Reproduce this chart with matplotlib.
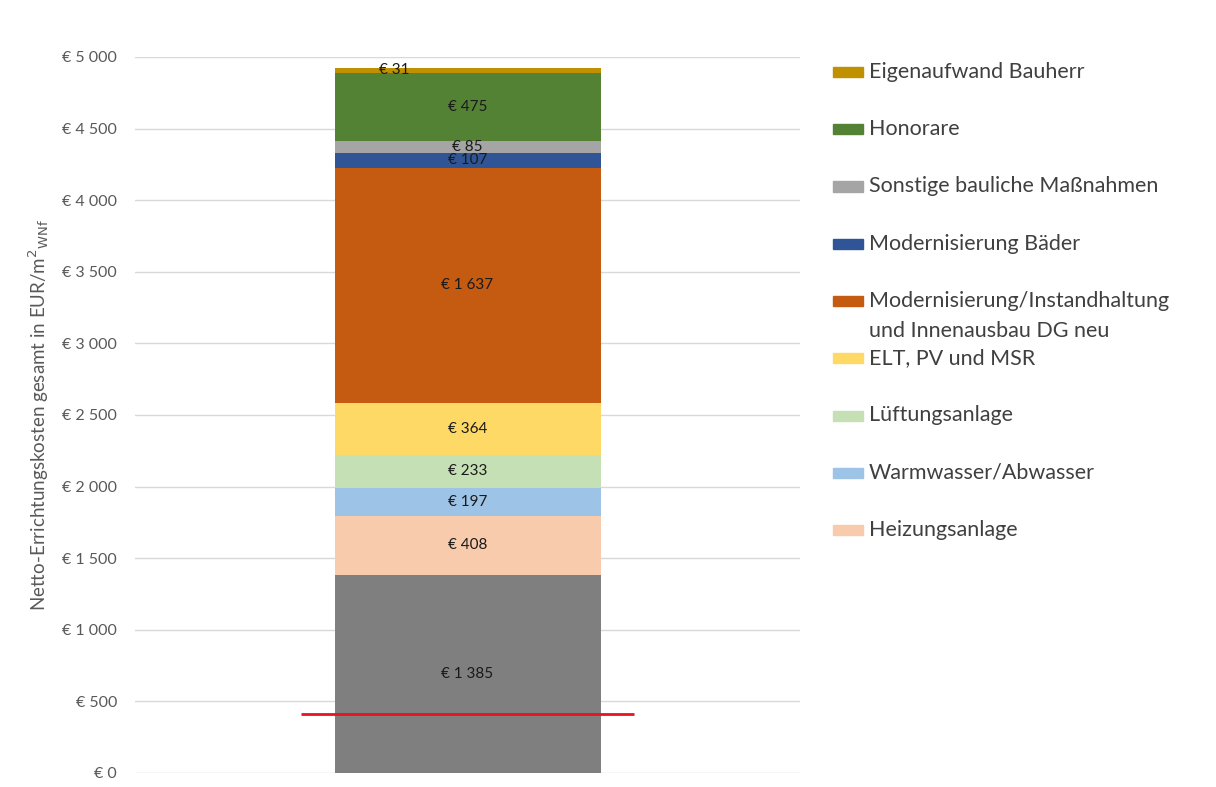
import matplotlib.pyplot as plt
from matplotlib.patches import Rectangle

plt.rcParams['font.family'] = ['Lato', 'DejaVu Sans']

# Segments from bottom to top
segments = ["Basis", "Heizungsanlage", "Warmwasser/Abwasser", "Lüftungsanlage",
            "ELT, PV und MSR", "Modernisierung/Instandhaltung\nund Innenausbau DG neu",
            "Modernisierung Bäder", "Sonstige bauliche Maßnahmen", "Honorare",
            "Eigenaufwand Bauherr"]
values = [1385, 408, 197, 233, 364, 1637, 107, 85, 475, 31]
colors = ["#7f7f7f", "#f8cbad", "#9dc3e6", "#c5e0b4", "#ffd966", "#c55a11",
          "#2f5597", "#a5a5a5", "#548235", "#bf9000"]
show_in_legend = [False, True, True, True, True, True, True, True, True, True]
red_line_value = 412

yticks = [0, 500, 1000, 1500, 2000, 2500, 3000, 3500, 4000, 4500, 5000]


def eur(v):
    return "€ " + f"{v:,}".replace(",", " ")


fig = plt.figure(figsize=(12.16, 7.87), dpi=100)
ax = fig.add_axes([0.111, 0.0178, 0.547, 0.9098])

bottom = 0
for name, val, col in zip(segments, values, colors):
    ax.bar(0, val, width=0.8, bottom=bottom, color=col, zorder=2)
    xoff = -0.22 if val < 50 else 0
    ax.text(xoff, bottom + val / 2, eur(val), ha="center", va="center",
            fontsize=11, color="#1a1a1a", zorder=3)
    bottom += val

ax.hlines(red_line_value, -0.5, 0.5, color="#e8141c", lw=2, zorder=4)

ax.set_xlim(-1, 1)
ax.set_ylim(0, 5000)
ax.set_yticks(yticks)
ax.set_yticklabels([eur(t) for t in yticks], fontsize=11.5, color="#595959")
ax.set_xticks([])
ax.tick_params(axis="y", length=0, pad=13)
ax.grid(axis="y", color="#d9d9d9", lw=1, zorder=0)
for s in ax.spines.values():
    s.set_visible(False)
ax.set_ylabel("Netto-Errichtungskosten gesamt in EUR/m$^{2}$$_{\\mathrm{WNf}}$",
              fontsize=13.5, color="#595959", labelpad=8)

# legend drawn by hand (Excel-like spacing)
W, H = 1216, 787
entries = [(n, c) for n, c, s in zip(segments, colors, show_in_legend) if s][::-1]
for i, (name, col) in enumerate(entries):
    yc = 72 + i * 57.25
    fig.patches.append(Rectangle((833 / W, 1 - (yc + 5) / H), 30 / W, 10 / H,
                                 transform=fig.transFigure, color=col))
    for j, line in enumerate(name.split("\n")):
        fig.text(869 / W, 1 - (yc + j * 30) / H, line, ha="left", va="center",
                 fontsize=15.5, color="#404040")

fig.savefig("out.png", dpi=100)
